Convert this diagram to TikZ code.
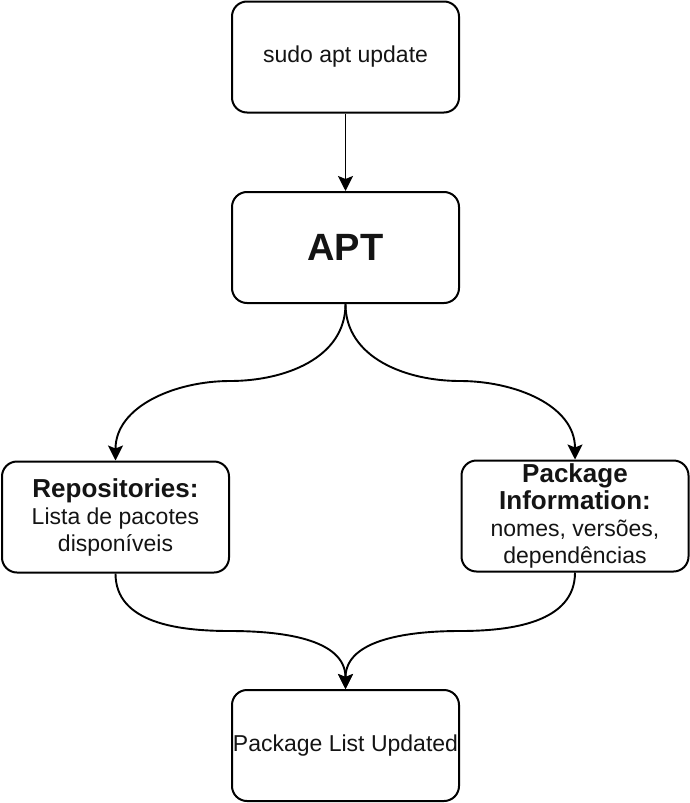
\documentclass[tikz,border=0pt]{standalone}
\usepackage{fontspec}
\setmainfont{Liberation Sans}
\usetikzlibrary{arrows.meta}
\begin{document}
\begin{tikzpicture}[x=1pt,y=-1pt,
  box/.style={draw, line width=2pt, rounded corners=15pt, minimum width=227pt, minimum height=111pt, inner sep=0pt, align=center, font=\fontsize{23}{27}\selectfont, text=black!92},
  conn/.style={line width=1.9pt, -{Stealth[length=15pt,width=15pt,inset=3pt]}}
]
\useasboundingbox (0,0) rectangle (690,803);
\node[box] (cmd) at (345.5,57) {sudo apt update};
\node[box, font=\fontsize{38}{40}\selectfont\bfseries] (apt) at (345.5,247.5) {APT};
\node[box] (repo) at (115.5,517) {{\fontsize{26}{27}\selectfont\bfseries Repositories:}\\Lista de pacotes\\disponíveis};
\node[box] (pkg) at (575,516) {{\fontsize{26}{28}\selectfont\bfseries Package}\\{\fontsize{26}{28}\selectfont\bfseries Information:}\\nomes, versões,\\dependências};
\node[box] (done) at (345.5,745.5) {Package List Updated};
\coordinate (m1) at (230,381);
\coordinate (m2) at (460,381);
\coordinate (m3) at (230,631);
\coordinate (m4) at (460,631);
\draw[conn] (cmd.south) -- (apt.north);
\draw[conn] (apt.south) to[out=-90,in=0] (m1) to[out=180,in=90] (repo.north);
\draw[conn] (apt.south) to[out=-90,in=180] (m2) to[out=0,in=90] (pkg.north);
\draw[conn] (repo.south) to[out=-90,in=180] (m3) to[out=0,in=90] (done.north);
\draw[conn] (pkg.south) to[out=-90,in=0] (m4) to[out=180,in=90] (done.north);
\end{tikzpicture}
\end{document}
